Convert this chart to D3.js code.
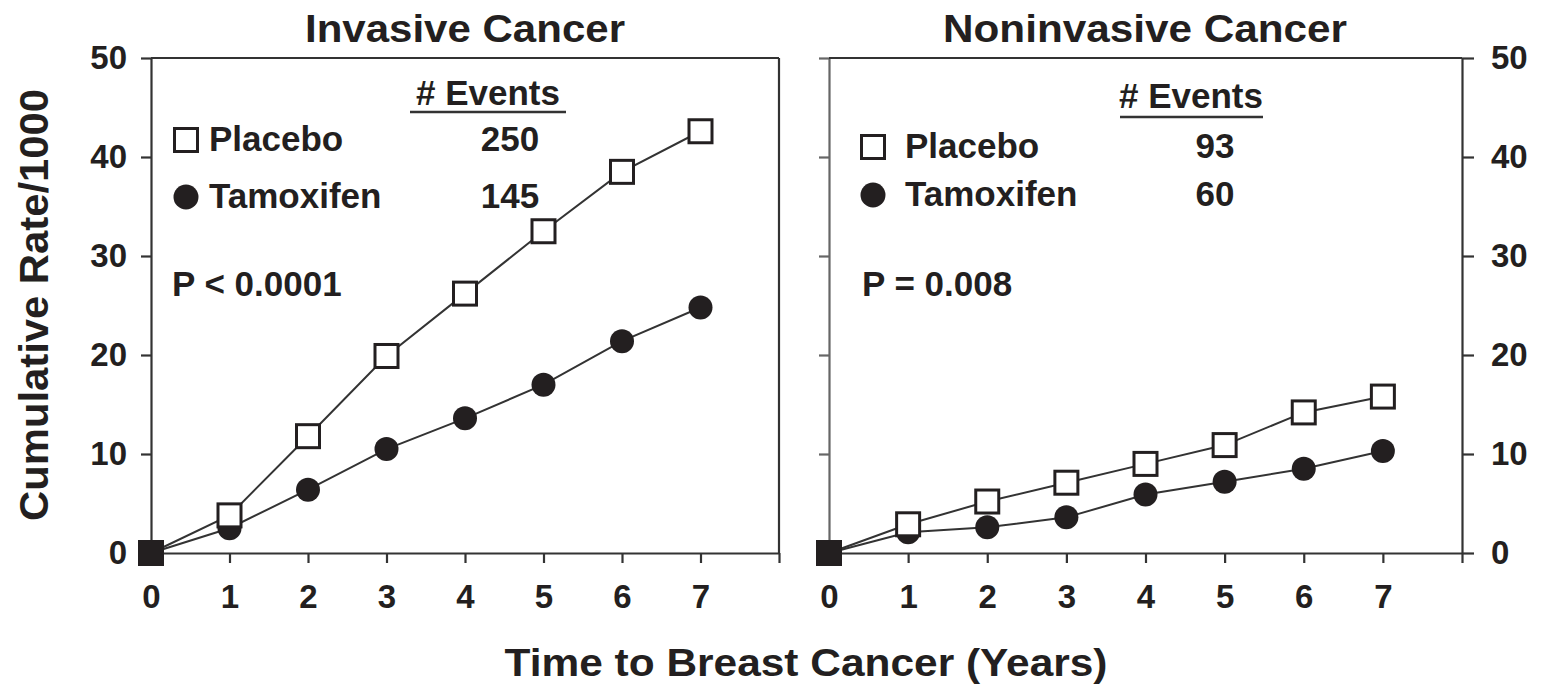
<!DOCTYPE html>
<html>
<head>
<meta charset="utf-8">
<script src="https://cdn.jsdelivr.net/npm/d3@7"></script>
<style>
  html, body { margin: 0; padding: 0; background: #fff; }
  svg text { font-family: "Liberation Sans", Arial, sans-serif; font-weight: bold; fill: #231f20; }
</style>
</head>
<body>
<svg id="chart" width="1549" height="688"></svg>
<script>
// ---- data ----
const years = [0, 1, 2, 3, 4, 5, 6, 7];
const invasivePlacebo   = [0, 3.8, 11.8, 19.9, 26.2, 32.5, 38.5, 42.6];
const invasiveTamoxifen = [0, 2.5, 6.4, 10.5, 13.6, 17.0, 21.4, 24.8];
const noninvPlacebo     = [0, 2.9, 5.2, 7.1, 9.0, 10.9, 14.2, 15.8];
const noninvTamoxifen   = [0, 2.1, 2.6, 3.6, 5.9, 7.2, 8.5, 10.3];
const yTicks = [0, 10, 20, 30, 40, 50];
const xTicks = [0, 1, 2, 3, 4, 5, 6, 7, 8];
const panelTitles = ["Invasive Cancer", "Noninvasive Cancer"];
const seriesNames = ["Placebo", "Tamoxifen"];
const invasiveEvents = [250, 145];
const noninvEvents = [93, 60];
const pValues = ["P < 0.0001", "P = 0.008"];
const xLabel = "Time to Breast Cancer (Years)";
const yLabel = "Cumulative Rate/1000";

const ink = "#231f20";
const svg = d3.select("#chart");

const panels = [
  { title: panelTitles[0], placebo: invasivePlacebo, tam: invasiveTamoxifen, events: invasiveEvents, p: pValues[0],
    x0: 151, x1: 779, labelsLeft: true,
    leg: { mx: 186, py: 140, ty: 197, tx: 209, pBase: 151, tBase: 208, evX: 488, evBase: 105, ulY: 112, ulX0: 410, ulX1: 566, numX: 510, pX: 172, pvBase: 296, titleX: 465, titleW: 320 } },
  { title: panelTitles[1], placebo: noninvPlacebo, tam: noninvTamoxifen, events: noninvEvents, p: pValues[1],
    x0: 829, x1: 1462, labelsLeft: false,
    leg: { mx: 873, py: 147, ty: 195, tx: 905, pBase: 158, tBase: 206, evX: 1191, evBase: 108, ulY: 117, ulX0: 1120, ulX1: 1263, numX: 1215, pX: 862, pvBase: 296, titleX: 1145, titleW: 404 } }
];

const yTop = 58, yBot = 553;
const y = d3.scaleLinear().domain([0, 50]).range([yBot, yTop]);

function styleAxis(g) {
  g.selectAll("path.domain").attr("stroke", "#333").attr("stroke-width", 2.2);
  g.selectAll(".tick line").attr("stroke", "#333").attr("stroke-width", 2.2);
  g.selectAll(".tick text").style("font-size", "33px").style("font-family", '"Liberation Sans", Arial, sans-serif')
    .style("font-weight", "bold").attr("fill", ink);
}

panels.forEach((p, pi) => {
  const x = d3.scaleLinear().domain([0, 8]).range([p.x0, p.x1]);
  const g = svg.append("g");

  const ax = d3.axisLeft(y).tickValues(yTicks).tickSize(10).tickSizeOuter(0).tickPadding(14)
    .tickFormat(p.labelsLeft ? d3.format("d") : () => "");
  const gy = g.append("g").attr("transform", `translate(${x(0)},0)`).call(ax);
  styleAxis(gy);
  if (!p.labelsLeft) gy.selectAll("path.domain, .tick line").attr("stroke", "#666");

  if (p.labelsLeft) {
    g.append("line").attr("x1", x(8)).attr("x2", x(8)).attr("y1", y(50)).attr("y2", y(0))
      .attr("stroke", "#333").attr("stroke-width", 2.2);
  } else {
    const ar = d3.axisRight(y).tickValues(yTicks).tickSize(12).tickSizeOuter(0).tickPadding(17).tickFormat(d3.format("d"));
    const gr = g.append("g").attr("transform", `translate(${x(8)},0)`).call(ar);
    styleAxis(gr);
  }
  g.append("line").attr("x1", x(0)).attr("x2", x(8)).attr("y1", y(50)).attr("y2", y(50))
    .attr("stroke", "#333").attr("stroke-width", 2.2);

  const axb = d3.axisBottom(x).tickValues(xTicks).tickSize(10).tickSizeOuter(0).tickPadding(22)
    .tickFormat(d => d < 8 ? d : "");
  const gb = g.append("g").attr("transform", `translate(0,${y(0)})`).call(axb);
  styleAxis(gb);

  g.append("text").attr("x", p.leg.titleX).attr("y", 42).attr("text-anchor", "middle")
    .style("font-size", "38px").attr("textLength", p.leg.titleW).attr("lengthAdjust", "spacingAndGlyphs")
    .text(p.title);

  const line = d3.line().x((d, i) => x(years[i])).y(d => y(d));
  [p.placebo, p.tam].forEach(s => {
    g.append("path").datum(s).attr("d", line).attr("fill", "none").attr("stroke", "#333").attr("stroke-width", 2);
  });

  g.selectAll(".tam").data(p.tam).enter().append("circle")
    .attr("cx", (d, i) => x(years[i])).attr("cy", d => y(d)).attr("r", 12).attr("fill", ink);
  const sq = 23;
  g.selectAll(".plc").data(p.placebo).enter().append("rect")
    .attr("x", (d, i) => x(years[i]) - sq / 2).attr("y", d => y(d) - sq / 2)
    .attr("width", sq).attr("height", sq)
    .attr("fill", (d, i) => years[i] === 0 ? ink : "#fff").attr("stroke", ink).attr("stroke-width", 3);

  const L = p.leg;
  g.append("rect").attr("x", L.mx - 11.5).attr("y", L.py - 11.5).attr("width", 23).attr("height", 23)
    .attr("fill", "#fff").attr("stroke", ink).attr("stroke-width", 3);
  g.append("circle").attr("cx", L.mx).attr("cy", L.ty).attr("r", 12.5).attr("fill", ink);
  const fs = "35px";
  g.append("text").attr("x", L.tx).attr("y", L.pBase).style("font-size", fs).text(seriesNames[0]);
  g.append("text").attr("x", L.tx).attr("y", L.tBase).style("font-size", fs).text(seriesNames[1]);
  g.append("text").attr("x", L.evX).attr("y", L.evBase).attr("text-anchor", "middle").style("font-size", fs).text("# Events");
  g.append("line").attr("x1", L.ulX0).attr("x2", L.ulX1).attr("y1", L.ulY).attr("y2", L.ulY)
    .attr("stroke", "#333").attr("stroke-width", 2.5);
  g.append("text").attr("x", L.numX).attr("y", L.pBase).attr("text-anchor", "middle").style("font-size", fs).text(p.events[0]);
  g.append("text").attr("x", L.numX).attr("y", L.tBase).attr("text-anchor", "middle").style("font-size", fs).text(p.events[1]);
  g.append("text").attr("x", L.pX).attr("y", L.pvBase).style("font-size", fs).text(p.p);
});

svg.append("text").attr("x", 806).attr("y", 676).attr("text-anchor", "middle")
  .style("font-size", "38px").attr("textLength", 603).attr("lengthAdjust", "spacingAndGlyphs").text(xLabel);
svg.append("text").attr("transform", "translate(48,305) rotate(-90)").attr("text-anchor", "middle")
  .style("font-size", "40px").attr("textLength", 432).attr("lengthAdjust", "spacingAndGlyphs").text(yLabel);
</script>
</body>
</html>
